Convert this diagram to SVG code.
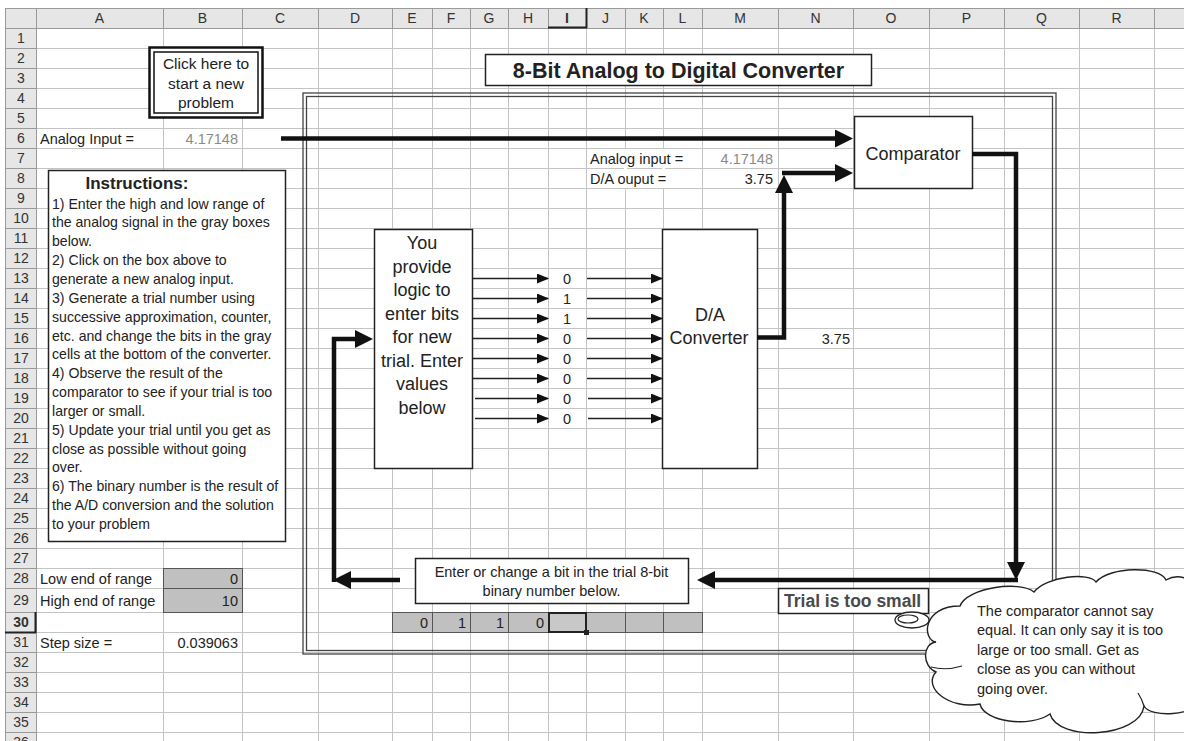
<svg xmlns="http://www.w3.org/2000/svg" width="1184" height="741" viewBox="0 0 1184 741">
<style>
.t{font-family:"Liberation Sans",Arial,sans-serif;font-size:14.5px;fill:#222}
.i{font-size:14.1px}
.h{font-family:"Liberation Sans",Arial,sans-serif;font-size:14px;fill:#333;text-anchor:middle}
.gr{fill:#8a8a8a}
.e{text-anchor:end}
.m{text-anchor:middle}
.b{font-weight:bold}
.box{fill:#fff;stroke:#222;stroke-width:1.5}
.grid{stroke:#c4c4c4;stroke-width:1;fill:none}
.hs{stroke:#9a9a9a;stroke-width:1;fill:none}
.thick{stroke:#111;stroke-width:4.5;fill:none;marker-end:url(#ah)}
.thin{stroke:#222;stroke-width:1.5;fill:none;marker-end:url(#at)}
.cell{fill:#c0c0c0;stroke:#555;stroke-width:1}
</style>
<defs>
<marker id="ah" viewBox="0 0 18 18" refX="5" refY="9" markerWidth="18" markerHeight="18" markerUnits="userSpaceOnUse" orient="auto"><path d="M0,0 L18,9 L0,18 z" fill="#111"/></marker>
<marker id="at" viewBox="0 0 12 10" refX="11" refY="5" markerWidth="12" markerHeight="10" markerUnits="userSpaceOnUse" orient="auto"><path d="M0,0 L12,5 L0,10 z" fill="#111"/></marker>
</defs>
<rect x="0" y="0" width="1184" height="741" fill="#fff"/>

<!-- sheet grid -->
<g id="grid">
<rect x="5" y="8" width="1179" height="20" fill="#e6e6e6"/>
<rect x="5" y="28" width="31" height="713" fill="#e6e6e6"/>
<path class="grid" d="M163.5 28V741M242.5 28V741M318.5 28V741M392.5 28V741M432.5 28V741M470.5 28V741M508.5 28V741M548.5 28V741M586.5 28V741M625.5 28V741M663.5 28V741M702.5 28V741M778.5 28V741M853.5 28V741M929.5 28V741M1004.5 28V741M1079.5 28V741M1154.5 28V741"/>
<path class="grid" d="M36 48.5H1184M36 68.5H1184M36 88.5H1184M36 108.5H1184M36 128.5H1184M36 148.5H1184M36 168.5H1184M36 188.5H1184M36 208.5H1184M36 228.5H1184M36 248.5H1184M36 268.5H1184M36 288.5H1184M36 308.5H1184M36 328.5H1184M36 348.5H1184M36 368.5H1184M36 388.5H1184M36 408.5H1184M36 428.5H1184M36 448.5H1184M36 468.5H1184M36 488.5H1184M36 508.5H1184M36 528.5H1184M36 548.5H1184M36 568.5H1184M36 588.5H1184M36 612.5H1184M36 632.5H1184M36 652.5H1184M36 672.5H1184M36 692.5H1184M36 712.5H1184M36 732.5H1184"/>
<path class="hs" d="M5.5 8V741M5 8.5H1184M5 28.5H1184M36.5 8V741M163.5 8V28M242.5 8V28M318.5 8V28M392.5 8V28M432.5 8V28M470.5 8V28M508.5 8V28M548.5 8V28M586.5 8V28M625.5 8V28M663.5 8V28M702.5 8V28M778.5 8V28M853.5 8V28M929.5 8V28M1004.5 8V28M1079.5 8V28M1154.5 8V28"/>
<path class="hs" d="M5 48.5H36M5 68.5H36M5 88.5H36M5 108.5H36M5 128.5H36M5 148.5H36M5 168.5H36M5 188.5H36M5 208.5H36M5 228.5H36M5 248.5H36M5 268.5H36M5 288.5H36M5 308.5H36M5 328.5H36M5 348.5H36M5 368.5H36M5 388.5H36M5 408.5H36M5 428.5H36M5 448.5H36M5 468.5H36M5 488.5H36M5 508.5H36M5 528.5H36M5 548.5H36M5 568.5H36M5 588.5H36M5 612.5H36M5 632.5H36M5 652.5H36M5 672.5H36M5 692.5H36M5 712.5H36M5 732.5H36"/>
<path d="M548 27.5H587M586.5 8V28M35.5 612V633M5 632.5H36" stroke="#222" stroke-width="2" fill="none"/>
<text class="h" x="99.5" y="23">A</text><text class="h" x="202.5" y="23">B</text><text class="h" x="280" y="23">C</text><text class="h" x="355" y="23">D</text><text class="h" x="412" y="23">E</text><text class="h" x="451" y="23">F</text><text class="h" x="489" y="23">G</text><text class="h" x="528" y="23">H</text><text class="h b" x="567" y="23">I</text><text class="h" x="605.5" y="23">J</text><text class="h" x="644" y="23">K</text><text class="h" x="682.5" y="23">L</text><text class="h" x="740" y="23">M</text><text class="h" x="815.5" y="23">N</text><text class="h" x="891" y="23">O</text><text class="h" x="966.5" y="23">P</text><text class="h" x="1041.5" y="23">Q</text><text class="h" x="1116.5" y="23">R</text>
<text class="h" x="21" y="43">1</text><text class="h" x="21" y="63">2</text><text class="h" x="21" y="83">3</text><text class="h" x="21" y="103">4</text><text class="h" x="21" y="123">5</text><text class="h" x="21" y="143">6</text><text class="h" x="21" y="163">7</text><text class="h" x="21" y="183">8</text><text class="h" x="21" y="203">9</text><text class="h" x="21" y="223">10</text><text class="h" x="21" y="243">11</text><text class="h" x="21" y="263">12</text><text class="h" x="21" y="283">13</text><text class="h" x="21" y="303">14</text><text class="h" x="21" y="323">15</text><text class="h" x="21" y="343">16</text><text class="h" x="21" y="363">17</text><text class="h" x="21" y="383">18</text><text class="h" x="21" y="403">19</text><text class="h" x="21" y="423">20</text><text class="h" x="21" y="443">21</text><text class="h" x="21" y="463">22</text><text class="h" x="21" y="483">23</text><text class="h" x="21" y="503">24</text><text class="h" x="21" y="523">25</text><text class="h" x="21" y="543">26</text><text class="h" x="21" y="563">27</text><text class="h" x="21" y="583">28</text><text class="h" x="21" y="605">29</text><text class="h b" x="21" y="627">30</text><text class="h" x="21" y="647">31</text><text class="h" x="21" y="667">32</text><text class="h" x="21" y="687">33</text><text class="h" x="21" y="707">34</text><text class="h" x="21" y="727">35</text><text class="h" x="21" y="747">36</text>
<rect x="624" y="149" width="3" height="39" fill="#fff"/><rect x="662" y="149" width="3" height="39" fill="#fff"/>
</g>

<!-- cell contents -->
<g id="cells">
<text class="t" x="40" y="143.5">Analog Input =</text>
<text class="t gr e" x="238" y="143.5">4.17148</text>
<text class="t" x="590" y="163.5">Analog input =</text>
<text class="t gr e" x="773" y="163.5">4.17148</text>
<text class="t" x="590" y="183.5">D/A ouput =</text>
<text class="t e" x="773" y="183.5">3.75</text>
<text class="t e" x="850" y="343.5">3.75</text>
<text class="t" x="40" y="583.5">Low end of range</text>
<rect class="cell" x="163.5" y="568.5" width="79" height="20"/>
<text class="t e" x="238" y="583.5">0</text>
<text class="t" x="40" y="605.5">High end of range</text>
<rect class="cell" x="163.5" y="588.5" width="79" height="24"/>
<text class="t e" x="238" y="605.5">10</text>
<text class="t" x="40" y="647.5">Step size =</text>
<text class="t e" x="238" y="647.5">0.039063</text>
</g>

<!-- frame -->
<g id="frame">
<rect x="303" y="93" width="753" height="561" fill="none" stroke="#444" stroke-width="1.3"/>
<rect x="306.5" y="96.5" width="746" height="554" fill="none" stroke="#444" stroke-width="1.3"/>
</g>

<g id="new-problem-button">
<rect x="149.5" y="47.5" width="113" height="70" fill="#fff" stroke="#111" stroke-width="2.5"/>
<rect x="154" y="52" width="104" height="61" fill="none" stroke="#111" stroke-width="1.5"/>
<text class="t m" x="206" y="68.5" style="font-size:15.5px">Click here to</text>
<text class="t m" x="206" y="88.5" style="font-size:15.5px">start a new</text>
<text class="t m" x="206" y="107.5" style="font-size:15.5px">problem</text>
</g>

<g id="title">
<rect class="box" x="485.5" y="54.5" width="386" height="31"/>
<text class="t m b" x="678.5" y="78" style="font-size:21.5px">8-Bit Analog to Digital Converter</text>
</g>

<g id="instructions">
<rect class="box" x="48.5" y="170.5" width="237" height="371"/>
<text class="t m b" x="137" y="189" style="font-size:17px">Instructions:</text>
<text class="t i" x="52" y="208.5">1) Enter the high and low range of</text>
<text class="t i" x="52" y="227.4">the analog signal in the gray boxes</text>
<text class="t i" x="52" y="246.2">below.</text>
<text class="t i" x="52" y="265.1">2) Click on the box above to</text>
<text class="t i" x="52" y="283.9">generate a new analog input.</text>
<text class="t i" x="52" y="302.8">3) Generate a trial number using</text>
<text class="t i" x="52" y="321.6">successive approximation, counter,</text>
<text class="t i" x="52" y="340.5">etc. and change the bits in the gray</text>
<text class="t i" x="52" y="359.3">cells at the bottom of the converter.</text>
<text class="t i" x="52" y="378.2">4) Observe the result of the</text>
<text class="t i" x="52" y="397">comparator to see if your trial is too</text>
<text class="t i" x="52" y="415.9">larger or small.</text>
<text class="t i" x="52" y="434.7">5) Update your trial until you get as</text>
<text class="t i" x="52" y="453.6">close as possible without going</text>
<text class="t i" x="52" y="472.4">over.</text>
<text class="t i" x="52" y="491.3">6) The binary number is the result of</text>
<text class="t i" x="52" y="510.1">the A/D conversion and the solution</text>
<text class="t i" x="52" y="529">to your problem</text>
</g>

<g id="logic-box">
<rect class="box" x="374.5" y="229.5" width="98" height="239"/>
<text class="t m" x="422" y="249" style="font-size:18px">You</text>
<text class="t m" x="422" y="272.5" style="font-size:18px">provide</text>
<text class="t m" x="422" y="296" style="font-size:18px">logic to</text>
<text class="t m" x="422" y="319.5" style="font-size:18px">enter bits</text>
<text class="t m" x="422" y="343" style="font-size:18px">for new</text>
<text class="t m" x="422" y="366.5" style="font-size:18px">trial. Enter</text>
<text class="t m" x="422" y="390" style="font-size:18px">values</text>
<text class="t m" x="422" y="413.5" style="font-size:18px">below</text>
</g>

<g id="bits">
<text class="t m" x="567" y="283.5">0</text>
<text class="t m" x="567" y="303.5">1</text>
<text class="t m" x="567" y="323.5">1</text>
<text class="t m" x="567" y="343.5">0</text>
<text class="t m" x="567" y="363.5">0</text>
<text class="t m" x="567" y="383.5">0</text>
<text class="t m" x="567" y="403.5">0</text>
<text class="t m" x="567" y="423.5">0</text>
</g>

<g id="da-converter">
<rect class="box" x="662.5" y="229.5" width="95" height="239"/>
<text class="t m" x="710" y="320.5" style="font-size:18px">D/A</text>
<text class="t m" x="709" y="343.5" style="font-size:18px">Converter</text>
</g>

<g id="comparator">
<rect class="box" x="854.5" y="116.5" width="118" height="72"/>
<text class="t m" x="913" y="159.5" style="font-size:18px">Comparator</text>
</g>

<g id="enter-bit-note">
<rect class="box" x="415.5" y="558.5" width="273" height="45"/>
<text class="t m" x="551.5" y="576.5">Enter or change a bit in the trial 8-bit</text>
<text class="t m" x="551.5" y="595.5">binary number below.</text>
</g>

<g id="trial-bits">
<rect class="cell" x="392.5" y="612.5" width="310" height="20"/>
<path d="M432.5 612V633M470.5 612V633M508.5 612V633M548.5 612V633M586.5 612V633M625.5 612V633M663.5 612V633" stroke="#555" stroke-width="1"/>
<text class="t e" x="428" y="627.5">0</text>
<text class="t e" x="466" y="627.5">1</text>
<text class="t e" x="504" y="627.5">1</text>
<text class="t e" x="544" y="627.5">0</text>
<rect x="549" y="613" width="37" height="19" fill="#c8c8c8" stroke="#222" stroke-width="2"/>
<rect x="584" y="630" width="5" height="5" fill="#222"/>
</g>

<g id="result">
<rect class="box" x="778.5" y="588.5" width="150" height="25"/>
<text class="t b" x="784" y="607" style="font-size:17.5px;fill:#4a4a4a">Trial is too small</text>
</g>

<g id="connectors">
<path class="thick" d="M281 138.5H840"/>
<path class="thick" d="M757 337.5H784V188"/>
<path class="thick" d="M782 173H840"/>
<path class="thick" d="M972 154H1016V567"/>
<path class="thick" d="M1018 580H710"/>
<path class="thick" d="M400 580H346"/>
<path class="thick" d="M334 582V339H360"/>
<path class="thin" d="M473 278.5H548"/>
<path class="thin" d="M473 298.5H548"/>
<path class="thin" d="M473 318.5H548"/>
<path class="thin" d="M473 338.5H548"/>
<path class="thin" d="M473 358.5H548"/>
<path class="thin" d="M473 378.5H548"/>
<path class="thin" d="M475 398.5H548"/>
<path class="thin" d="M475 418.5H548"/>
<path class="thin" d="M587 278.5H662"/>
<path class="thin" d="M587 298.5H662"/>
<path class="thin" d="M587 318.5H662"/>
<path class="thin" d="M587 338.5H662"/>
<path class="thin" d="M587 358.5H662"/>
<path class="thin" d="M587 378.5H662"/>
<path class="thin" d="M588 398.5H662"/>
<path class="thin" d="M588 418.5H662"/>
</g>

<g id="cloud-callout">
<ellipse cx="912" cy="620" rx="17" ry="8" fill="#fff" stroke="#222" stroke-width="1.3"/>
<ellipse cx="908" cy="619" rx="10" ry="4" fill="#fff" stroke="#222" stroke-width="1.2"/>
<path d="M936 642C922 640 922 606 960 606C966 588 1020 580 1034 592C1046 576 1090 572 1096 582C1110 566 1160 566 1166 580C1180 572 1200 580 1200 600L1200 700C1196 716 1150 718 1144 706C1140 738 1058 742 1050 714C1030 728 984 722 980 704C950 710 922 688 936 672C922 666 922 644 936 642Z" fill="#fff" stroke="#222" stroke-width="1.4"/>
<path d="M931 667C942 670 952 669 962 666M1144 706C1142 700 1140 696 1138 693" fill="none" stroke="#222" stroke-width="1.2"/>
<text class="t" x="977" y="615.5">The comparator cannot say</text>
<text class="t" x="977" y="635">equal. It can only say it is too</text>
<text class="t" x="977" y="654.5">large or too small. Get as</text>
<text class="t" x="977" y="674">close as you can without</text>
<text class="t" x="977" y="693.5">going over.</text>
</g>
</svg>
